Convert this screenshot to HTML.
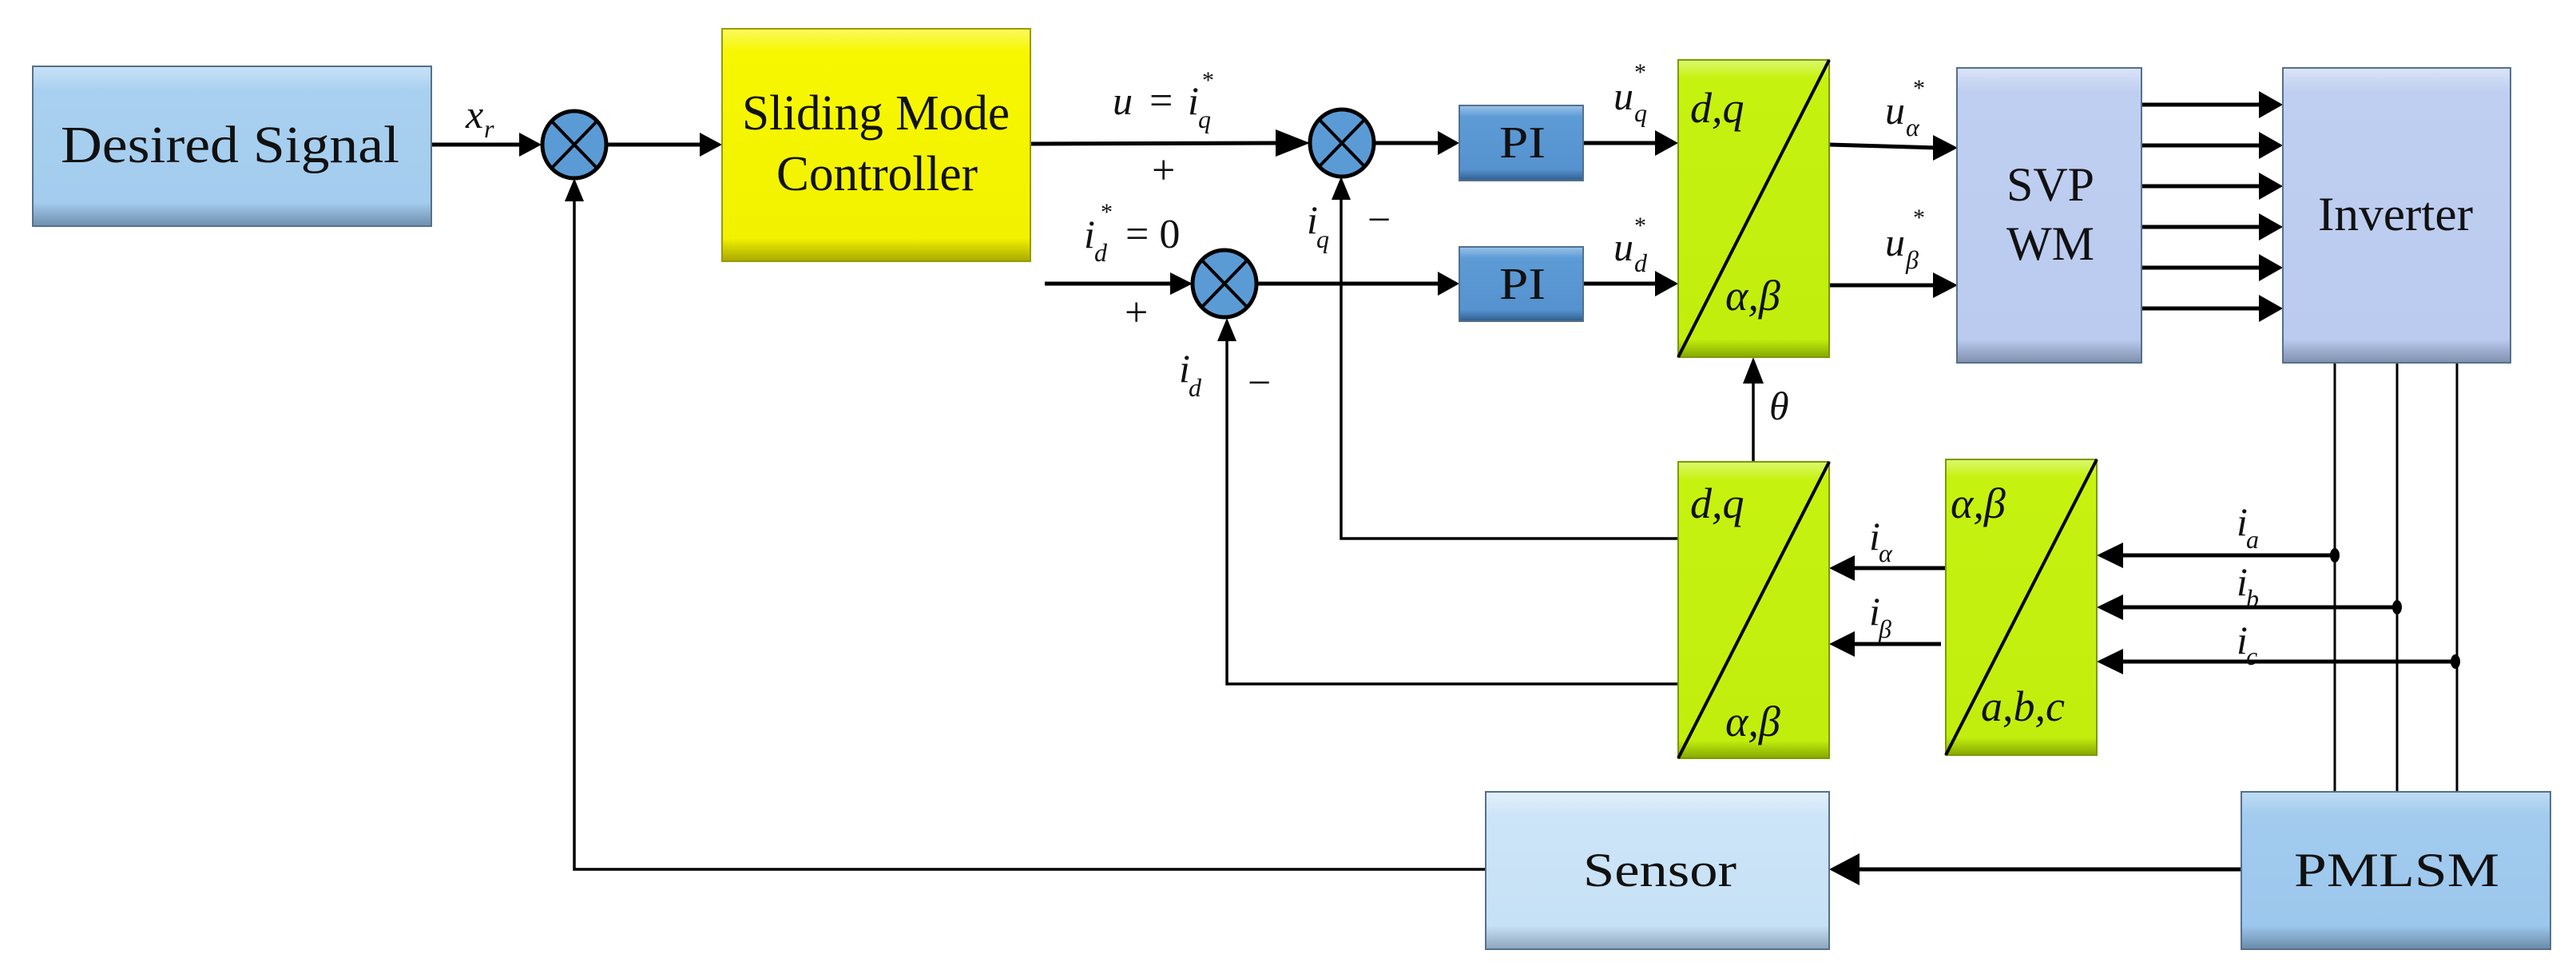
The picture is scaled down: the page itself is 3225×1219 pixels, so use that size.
<!DOCTYPE html>
<html><head><meta charset="utf-8"><style>
html,body{margin:0;padding:0;background:#fff}
svg{display:block}
text{font-family:"Liberation Serif",serif;fill:#111}
.it{font-style:italic}
</style></head><body>
<svg width="3225" height="1219" viewBox="0 0 3225 1219" xmlns="http://www.w3.org/2000/svg">
<defs>
<linearGradient id="gblue" x1="0" y1="0" x2="0" y2="1"><stop offset="0" stop-color="#c9e2f7"/><stop offset="0.15" stop-color="#a9d0f0"/><stop offset="0.85" stop-color="#a3ccee"/><stop offset="1" stop-color="#6f8fae"/></linearGradient>
<linearGradient id="gsens" x1="0" y1="0" x2="0" y2="1"><stop offset="0" stop-color="#e3f0fb"/><stop offset="0.15" stop-color="#cde5f8"/><stop offset="0.85" stop-color="#c6e0f5"/><stop offset="1" stop-color="#8ea6bd"/></linearGradient>
<linearGradient id="gpm" x1="0" y1="0" x2="0" y2="1"><stop offset="0" stop-color="#c0dcf4"/><stop offset="0.15" stop-color="#a2cbee"/><stop offset="0.85" stop-color="#9cc7ec"/><stop offset="1" stop-color="#6a8aa8"/></linearGradient>
<linearGradient id="gyel" x1="0" y1="0" x2="0" y2="1"><stop offset="0" stop-color="#fafa60"/><stop offset="0.1" stop-color="#f7f700"/><stop offset="0.9" stop-color="#f2f200"/><stop offset="1" stop-color="#a8a800"/></linearGradient>
<linearGradient id="gpi" x1="0" y1="0" x2="0" y2="1"><stop offset="0" stop-color="#9cc3ea"/><stop offset="0.15" stop-color="#5d9bd6"/><stop offset="0.85" stop-color="#5592cf"/><stop offset="1" stop-color="#2f5d8c"/></linearGradient>
<linearGradient id="ggrn" x1="0" y1="0" x2="0" y2="1"><stop offset="0" stop-color="#dcf870"/><stop offset="0.06" stop-color="#c6f210"/><stop offset="0.94" stop-color="#c2ee0e"/><stop offset="1" stop-color="#86a800"/></linearGradient>
<linearGradient id="glav" x1="0" y1="0" x2="0" y2="1"><stop offset="0" stop-color="#dbe4f8"/><stop offset="0.08" stop-color="#bfcff1"/><stop offset="0.92" stop-color="#bacbef"/><stop offset="1" stop-color="#7f8fad"/></linearGradient>
</defs>

<g stroke="#000" stroke-width="5" fill="none">
<line x1="539" y1="181" x2="660" y2="181"/>
<line x1="760" y1="181" x2="880" y2="181"/>
<line x1="1290" y1="180" x2="1600" y2="179"/>
<line x1="1721" y1="179" x2="1805" y2="179"/>
<line x1="1982" y1="179" x2="2075" y2="179"/>
<line x1="2290" y1="181" x2="2425" y2="185"/>
<line x1="1308" y1="355" x2="1470" y2="355"/>
<line x1="1575" y1="355" x2="1805" y2="355"/>
<line x1="1982" y1="355" x2="2075" y2="355"/>
<line x1="2290" y1="357" x2="2425" y2="357"/>
<line x1="2681" y1="131" x2="2835" y2="131"/>
<line x1="2681" y1="182" x2="2835" y2="182"/>
<line x1="2681" y1="233" x2="2835" y2="233"/>
<line x1="2681" y1="284" x2="2835" y2="284"/>
<line x1="2681" y1="335" x2="2835" y2="335"/>
<line x1="2681" y1="386" x2="2835" y2="386"/>
<polyline points="2101,674 1679,674 1679,248" stroke-width="3.5"/>
<polyline points="2101,856 1536,856 1536,425" stroke-width="3.5"/>
<line x1="2195" y1="578" x2="2195" y2="478" stroke-width="3.5"/>
<line x1="2436" y1="711" x2="2320" y2="711"/>
<line x1="2430" y1="806" x2="2320" y2="806"/>
<line x1="2923" y1="695" x2="2655" y2="695"/>
<line x1="3001" y1="760" x2="2655" y2="760"/>
<line x1="3074" y1="828" x2="2655" y2="828"/>
<line x1="2923" y1="454" x2="2923" y2="991" stroke-width="3"/>
<line x1="3001" y1="454" x2="3001" y2="991" stroke-width="3"/>
<line x1="3076" y1="454" x2="3076" y2="991" stroke-width="3"/>
<line x1="2806" y1="1088" x2="2320" y2="1088"/>
<polyline points="1860,1088 719,1088 719,250" stroke-width="3.5"/>
</g>
<g fill="#000">
<polygon points="678,181 650,166 650,196"/>
<polygon points="904,181 876,166 876,196"/>
<polygon points="1640,179 1597,162 1597,196"/>
<polygon points="1827,179 1800,164 1800,194"/>
<polygon points="2101,179 2072,163 2072,195"/>
<polygon points="2451,185 2420,169 2420,201"/>
<polygon points="1493,355 1465,341 1465,369"/>
<polygon points="1827,355 1800,340 1800,370"/>
<polygon points="2101,355 2072,339 2072,371"/>
<polygon points="2451,357 2420,341 2420,373"/>
<polygon points="2858,131 2828,114 2828,148"/>
<polygon points="2858,182 2828,165 2828,199"/>
<polygon points="2858,233 2828,216 2828,250"/>
<polygon points="2858,284 2828,267 2828,301"/>
<polygon points="2858,335 2828,318 2828,352"/>
<polygon points="2858,386 2828,369 2828,403"/>
<polygon points="719,223 707,252 731,252"/>
<polygon points="1679,221 1667,250 1691,250"/>
<polygon points="1536,398 1524,427 1548,427"/>
<polygon points="2195,447 2182,480 2208,480"/>
<polygon points="2290,711 2322,695 2322,727"/>
<polygon points="2290,806 2322,790 2322,822"/>
<polygon points="2625,695 2658,679 2658,711"/>
<polygon points="2625,760 2658,744 2658,776"/>
<polygon points="2625,828 2658,812 2658,844"/>
<polygon points="2290,1088 2328,1068 2328,1108"/>
<ellipse cx="2923" cy="695" rx="6" ry="9"/>
<ellipse cx="3001" cy="760" rx="6" ry="9"/>
<ellipse cx="3074" cy="828" rx="6" ry="9"/>
</g>

<g stroke="#55708a" stroke-width="2">
<rect x="41" y="83" width="499" height="200" fill="url(#gblue)"/>
<rect x="1860" y="991" width="430" height="197" fill="url(#gsens)"/>
<rect x="2806" y="991" width="387" height="197" fill="url(#gpm)"/>
<rect x="1827" y="132" width="155" height="94" fill="url(#gpi)"/>
<rect x="1827" y="309" width="155" height="93" fill="url(#gpi)"/>
<rect x="2450" y="85" width="231" height="369" fill="url(#glav)"/>
<rect x="2858" y="85" width="285" height="369" fill="url(#glav)"/>
</g>
<rect x="904" y="36" width="386" height="291" fill="url(#gyel)" stroke="#9a9a00" stroke-width="2"/>
<g stroke="#7a9a00" stroke-width="2" fill="url(#ggrn)">
<rect x="2101" y="75" width="189" height="372"/>
<rect x="2101" y="578" width="189" height="371"/>
<rect x="2436" y="575" width="189" height="370"/>
</g>
<g stroke="#000" stroke-width="4">
<line x1="2101" y1="447" x2="2290" y2="75"/>
<line x1="2101" y1="949" x2="2290" y2="578"/>
<line x1="2436" y1="945" x2="2625" y2="575"/>
</g>

<g stroke="#000" stroke-width="5" fill="#5b9bd5">
<ellipse cx="719" cy="181" rx="40" ry="42"/>
<ellipse cx="1680" cy="179" rx="40" ry="42"/>
<ellipse cx="1533" cy="355" rx="40" ry="42"/>
</g>
<g stroke="#000" stroke-width="4">
<line x1="691" y1="152" x2="747" y2="210"/><line x1="747" y1="152" x2="691" y2="210"/>
<line x1="1652" y1="150" x2="1708" y2="208"/><line x1="1708" y1="150" x2="1652" y2="208"/>
<line x1="1505" y1="326" x2="1561" y2="384"/><line x1="1561" y1="326" x2="1505" y2="384"/>
</g>

<text x="76" y="203" font-size="66" textLength="424" lengthAdjust="spacingAndGlyphs">Desired Signal</text>
<text x="929" y="162" font-size="62" textLength="335" lengthAdjust="spacingAndGlyphs">Sliding Mode</text>
<text x="972" y="238" font-size="62" textLength="252" lengthAdjust="spacingAndGlyphs">Controller</text>
<text x="1877" y="197" font-size="56" textLength="58" lengthAdjust="spacingAndGlyphs">PI</text>
<text x="1877" y="374" font-size="56" textLength="58" lengthAdjust="spacingAndGlyphs">PI</text>
<text x="2512" y="251" font-size="60" textLength="110" lengthAdjust="spacingAndGlyphs">SVP</text>
<text x="2512" y="325" font-size="60" textLength="110" lengthAdjust="spacingAndGlyphs">WM</text>
<text x="2902" y="288" font-size="60" textLength="194" lengthAdjust="spacingAndGlyphs">Inverter</text>
<text x="1982" y="1109" font-size="60" textLength="192" lengthAdjust="spacingAndGlyphs">Sensor</text>
<text x="2872" y="1109" font-size="60" textLength="257" lengthAdjust="spacingAndGlyphs">PMLSM</text>

<g class="it" font-size="54">
<text x="2116" y="153">d,q</text>
<text x="2160" y="388">α,β</text>
<text x="2116" y="648">d,q</text>
<text x="2160" y="921">α,β</text>
<text x="2442" y="648">α,β</text>
<text x="2480" y="902">a,b,c</text>
</g>

<g class="it" font-size="50">
<text x="583" y="160">x</text><text x="606" y="172" font-size="32">r</text>
<text x="1393" y="143">u</text>
<text x="1487" y="143">i</text><text x="1500" y="160" font-size="32">q</text><text x="1505" y="110" font-size="30" font-style="normal">*</text>
<text x="1357" y="310">i</text><text x="1370" y="327" font-size="32">d</text><text x="1378" y="275" font-size="30" font-style="normal">*</text>
<text x="1636" y="292">i</text><text x="1648" y="310" font-size="32">q</text>
<text x="1476" y="478">i</text><text x="1488" y="496" font-size="32">d</text>
<text x="2215" y="525">θ</text>
<text x="2020" y="137">u</text><text x="2046" y="152" font-size="32">q</text><text x="2046" y="100" font-size="30" font-style="normal">*</text>
<text x="2020" y="326">u</text><text x="2046" y="340" font-size="32">d</text><text x="2046" y="292" font-size="30" font-style="normal">*</text>
<text x="2360" y="155">u</text><text x="2386" y="170" font-size="32">α</text><text x="2395" y="120" font-size="30" font-style="normal">*</text>
<text x="2360" y="320">u</text><text x="2386" y="336" font-size="32">β</text><text x="2395" y="282" font-size="30" font-style="normal">*</text>
<text x="2340" y="688">i</text><text x="2352" y="703" font-size="32">α</text>
<text x="2340" y="782">i</text><text x="2352" y="798" font-size="32">β</text>
<text x="2800" y="670">i</text><text x="2812" y="686" font-size="32">a</text>
<text x="2800" y="745">i</text><text x="2812" y="760" font-size="32">b</text>
<text x="2800" y="818">i</text><text x="2812" y="832" font-size="32">c</text>
</g>
<g font-size="52">
<text x="1439" y="143">=</text>
<text x="1409" y="310">= 0</text>
<text x="1442" y="230">+</text>
<text x="1408" y="408">+</text>
<text x="1712" y="292">−</text>
<text x="1562" y="496">−</text>
</g>
</svg>
</body></html>
